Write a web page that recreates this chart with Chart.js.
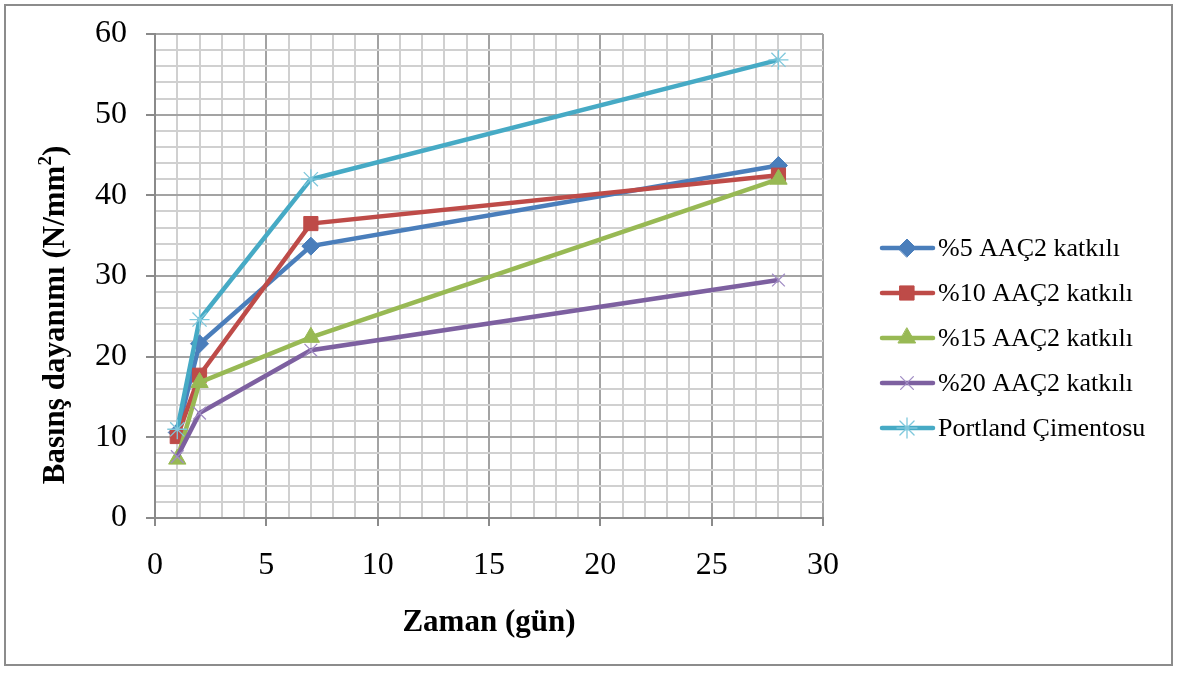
<!DOCTYPE html>
<html>
<head>
<meta charset="utf-8">
<script src="https://cdn.jsdelivr.net/npm/chart.js@4.4.1/dist/chart.umd.min.js"></script>
<style>
  html, body { margin: 0; padding: 0; background: #fff; }
  #wrap { width: 1179px; height: 673px; }
</style>
</head>
<body>
<div id="wrap"><canvas id="chart" width="1179" height="673"></canvas></div>
<script>
// curing time in days
const days = [1, 2, 7, 28];

// compressive strength, N/mm2
const aac5 = [10.6, 21.6, 33.7, 43.7];
const aac10 = [10.1, 17.7, 36.5, 42.5];
const aac15 = [7.3, 16.8, 22.4, 42.0];
const aac20 = [7.6, 13.0, 20.8, 29.5];
const portland = [11.0, 24.6, 42.0, 56.8];

const seriesNames = ['%5 AAÇ2 katkılı', '%10 AAÇ2 katkılı', '%15 AAÇ2 katkılı', '%20 AAÇ2 katkılı', 'Portland Çimentosu'];
const seriesValues = [aac5, aac10, aac15, aac20, portland];
const lineColors = ['#4A7EBB', '#BE4B48', '#98B954', '#7D60A0', '#46AAC5'];
const markerColors = ['#4A7EBB', '#BE4B48', '#98B954', '#A18DC4', '#7FC8DC'];
const markerStyles = ['rectRot', 'rect', 'triangle', 'crossRot', 'star'];
const markerSizes = [9, 10, 10, 9, 10];

const xTitle = 'Zaman (gün)';
const yTitle = 'Basınş dayanımı (N/mm';

const FONT = '"Liberation Serif", "Times New Roman", serif';

const datasets = seriesValues.map((vals, i) => ({
  label: seriesNames[i],
  data: days.map((d, j) => ({ x: d, y: vals[j] })),
  showLine: true,
  borderColor: lineColors[i],
  borderWidth: 4.5,
  tension: 0,
  pointStyle: markerStyles[i],
  pointRadius: markerSizes[i],
  pointHoverRadius: markerSizes[i],
  pointBackgroundColor: markerColors[i],
  pointBorderColor: markerColors[i],
  pointBorderWidth: i >= 3 ? 1.3 : 1,
  order: seriesValues.length - i
}));

// frame, axis titles and the excel-like legend
const decorations = {
  id: 'decorations',
  beforeDraw(chart) {
    const ctx = chart.ctx;
    ctx.save();
    ctx.fillStyle = '#fff';
    ctx.fillRect(0, 0, chart.width, chart.height);
    ctx.strokeStyle = '#8c8c8c';
    ctx.lineWidth = 2;
    ctx.strokeRect(5, 5, 1167, 660);
    ctx.restore();
  },
  afterDraw(chart) {
    const ctx = chart.ctx;
    const area = chart.chartArea;
    ctx.save();
    ctx.fillStyle = '#000';

    // x title
    ctx.font = 'bold 31px ' + FONT;
    ctx.textAlign = 'center';
    ctx.textBaseline = 'middle';
    ctx.fillText(xTitle, (area.left + area.right) / 2, 623);

    // y title with superscript 2
    ctx.translate(56, 315);
    ctx.rotate(-Math.PI / 2);
    ctx.textAlign = 'left';
    ctx.font = 'bold 31px ' + FONT;
    const w1 = ctx.measureText(yTitle).width;
    ctx.font = 'bold 19px ' + FONT;
    const w2 = ctx.measureText('2').width;
    ctx.font = 'bold 31px ' + FONT;
    const w3 = ctx.measureText(')').width;
    let x0 = -(w1 + w2 + w3) / 2;
    ctx.fillText(yTitle, x0, 0);
    ctx.font = 'bold 19px ' + FONT;
    ctx.fillText('2', x0 + w1, -10);
    ctx.font = 'bold 31px ' + FONT;
    ctx.fillText(')', x0 + w1 + w2, 0);
    ctx.restore();

    // legend
    ctx.save();
    ctx.font = '26px ' + FONT;
    ctx.textBaseline = 'middle';
    ctx.textAlign = 'left';
    seriesNames.forEach((name, i) => {
      const y = 248 + i * 45;
      ctx.strokeStyle = lineColors[i];
      ctx.lineWidth = 4.5;
      ctx.lineCap = 'round';
      ctx.beginPath();
      ctx.moveTo(882, y);
      ctx.lineTo(933, y);
      ctx.stroke();
      ctx.fillStyle = markerColors[i];
      ctx.strokeStyle = markerColors[i];
      ctx.lineWidth = i >= 3 ? 1.3 : 1;
      Chart.helpers.drawPoint(ctx, {
        pointStyle: markerStyles[i],
        radius: markerSizes[i],
        rotation: 0,
        borderWidth: i >= 3 ? 1.3 : 1
      }, 907, y);
      ctx.fillStyle = '#000';
      ctx.fillText(name, 938, y + 1);
    });
    ctx.restore();
  }
};

const ctx = document.getElementById('chart').getContext('2d');
new Chart(ctx, {
  type: 'scatter',
  data: { datasets: datasets },
  options: {
    responsive: false,
    animation: false,
    events: [],
    layout: { padding: { left: 0, top: 34, right: 356, bottom: 95 } },
    plugins: {
      legend: { display: false },
      tooltip: { enabled: false }
    },
    scales: {
      x: {
        type: 'linear',
        min: 0,
        max: 30,
        afterFit: s => {
          s.height = 60;
          s.paddingLeft = 0;
          s.paddingRight = 0;
        },
        afterBuildTicks: s => {
          s.ticks = [];
          for (let v = 0; v <= 30; v++) s.ticks.push({ value: v });
        },
        ticks: {
          autoSkip: false,
          maxRotation: 0,
          color: '#000',
          padding: 20,
          font: { family: FONT, size: 32 },
          callback: v => (v % 5 === 0 ? String(v) : '')
        },
        grid: {
          color: c => (c.tick && c.tick.value % 5 === 0 ? '#a3a3a3' : '#d0d0d0'),
          lineWidth: 2,
          tickLength: 8,
          tickColor: c => (c.tick && c.tick.value % 5 === 0 ? '#8a8a8a' : 'rgba(0,0,0,0)')
        },
        border: { color: '#8a8a8a', width: 2 }
      },
      y: {
        type: 'linear',
        min: 0,
        max: 60,
        afterFit: s => {
          s.width = 155;
          s.paddingTop = 0;
          s.paddingBottom = 0;
        },
        afterBuildTicks: s => {
          s.ticks = [];
          for (let v = 0; v <= 60; v += 2) s.ticks.push({ value: v });
        },
        ticks: {
          autoSkip: false,
          color: '#000',
          padding: 19,
          font: { family: FONT, size: 32 },
          callback: v => (v % 10 === 0 ? String(v) : '')
        },
        grid: {
          color: c => (c.tick && c.tick.value % 10 === 0 ? '#a3a3a3' : '#d0d0d0'),
          lineWidth: 2,
          tickLength: 9,
          tickColor: c => (c.tick && c.tick.value % 10 === 0 ? '#8a8a8a' : 'rgba(0,0,0,0)')
        },
        border: { color: '#8a8a8a', width: 2 }
      }
    }
  },
  plugins: [decorations]
});
</script>
</body>
</html>
